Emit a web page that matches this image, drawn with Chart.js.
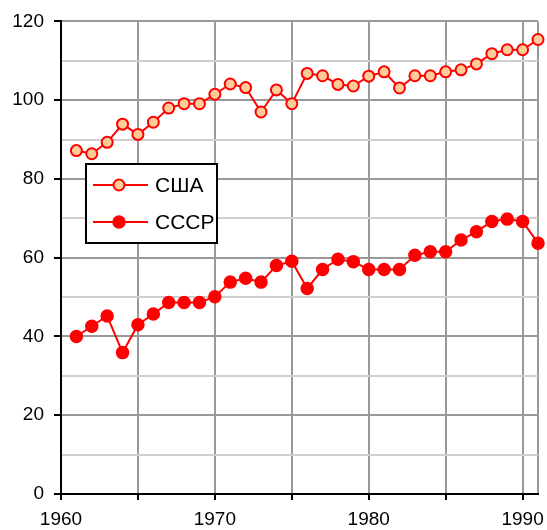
<!DOCTYPE html>
<html>
<head>
<meta charset="utf-8">
<script src="https://cdn.jsdelivr.net/npm/chart.js@4/dist/chart.umd.min.js"></script>
<style>
  html, body { margin: 0; padding: 0; background: #fff; }
  #wrap { width: 547px; height: 530px; }
</style>
</head>
<body>
<div id="wrap"><canvas id="chart" width="547" height="530"></canvas></div>
<script>
// values
const years = [1961, 1962, 1963, 1964, 1965, 1966, 1967, 1968, 1969, 1970,
  1971, 1972, 1973, 1974, 1975, 1976, 1977, 1978, 1979, 1980,
  1981, 1982, 1983, 1984, 1985, 1986, 1987, 1988, 1989, 1990, 1991];
const usa = [87.2, 86.4, 89.3, 93.9, 91.3, 94.4, 98.0, 99.1, 99.1, 101.5,
  104.1, 103.2, 97.0, 102.6, 99.1, 106.8, 106.2, 104.0, 103.6, 106.1,
  107.2, 103.1, 106.2, 106.2, 107.2, 107.7, 109.2, 111.8, 112.8, 112.8, 115.4];
const ussr = [40.0, 42.6, 45.2, 35.9, 43.0, 45.7, 48.6, 48.6, 48.6, 50.1,
  53.8, 54.8, 53.8, 58.0, 59.1, 52.2, 57.0, 59.6, 59.0, 57.0,
  57.0, 57.0, 60.6, 61.5, 61.5, 64.5, 66.6, 69.2, 69.8, 69.2, 63.7];
const seriesNames = ['США', 'СССР'];
const xTicks = [1960, 1965, 1970, 1975, 1980, 1985, 1990, 1991];

const FONT = '"Liberation Sans", Arial, sans-serif';

// legend drawn inside the plot, like the original
const boxLegend = {
  id: 'boxLegend',
  afterDraw(chart, args, opts) {
    const ctx = chart.ctx;
    ctx.save();
    ctx.fillStyle = '#fff';
    ctx.fillRect(opts.left, opts.top, opts.width, opts.height);
    ctx.strokeStyle = '#000';
    ctx.lineWidth = 2;
    ctx.strokeRect(opts.left, opts.top, opts.width, opts.height);
    chart.data.datasets.forEach((ds, i) => {
      const y = opts.top + opts.rowStart + i * opts.rowGap;
      const x0 = opts.left + 7;
      ctx.strokeStyle = ds.borderColor;
      ctx.lineWidth = ds.borderWidth;
      ctx.beginPath();
      ctx.moveTo(x0, y);
      ctx.lineTo(x0 + 55, y);
      ctx.stroke();
      ctx.beginPath();
      ctx.arc(x0 + 26, y, ds.pointRadius, 0, Math.PI * 2);
      ctx.fillStyle = ds.pointBackgroundColor;
      ctx.fill();
      ctx.lineWidth = ds.pointBorderWidth;
      ctx.strokeStyle = ds.pointBorderColor;
      ctx.stroke();
      ctx.fillStyle = '#000';
      ctx.font = '21px ' + FONT;
      ctx.textBaseline = 'middle';
      ctx.fillText(ds.label, x0 + 62, y + 1);
    });
    ctx.restore();
  }
};

const ctx = document.getElementById('chart').getContext('2d');
new Chart(ctx, {
  type: 'line',
  data: {
    datasets: [
      {
        label: seriesNames[0],
        data: years.map((yr, i) => ({ x: yr, y: usa[i] })),
        borderColor: '#ff0000',
        borderWidth: 2,
        pointRadius: 5.5,
        pointBorderWidth: 2,
        pointBackgroundColor: '#ffcc99',
        pointBorderColor: '#ff0000',
        tension: 0,
        clip: false
      },
      {
        label: seriesNames[1],
        data: years.map((yr, i) => ({ x: yr, y: ussr[i] })),
        borderColor: '#ff0000',
        borderWidth: 2,
        pointRadius: 6,
        pointBorderWidth: 1.5,
        pointBackgroundColor: '#ff0000',
        pointBorderColor: '#ff0000',
        tension: 0,
        clip: false
      }
    ]
  },
  options: {
    responsive: false,
    animation: false,
    layout: { padding: { top: 20, right: 9, left: 0, bottom: 0 } },
    plugins: {
      legend: { display: false },
      tooltip: { enabled: false },
      boxLegend: { left: 86, top: 164, width: 131, height: 79, rowStart: 21, rowGap: 37 }
    },
    scales: {
      x: {
        type: 'linear',
        min: 1960,
        max: 1991,
        afterBuildTicks: (scale) => { scale.ticks = xTicks.map(v => ({ value: v })); },
        afterFit: (scale) => { scale.height = 36; },
        ticks: {
          autoSkip: false,
          maxRotation: 0,
          padding: 8,
          color: '#000',
          font: { family: FONT, size: 19 },
          callback: (v) => (v % 10 === 0 ? String(v) : '')
        },
        grid: {
          color: '#999',
          lineWidth: 2,
          tickLength: 6,
          tickColor: (c) => (c.tick && c.tick.value === 1991 ? 'rgba(0,0,0,0)' : '#000'),
          tickWidth: 2
        },
        border: { color: '#000', width: 2 }
      },
      y: {
        min: 0,
        max: 120,
        afterFit: (scale) => { scale.width = 61; },
        ticks: {
          stepSize: 10,
          padding: 10,
          color: '#000',
          font: { family: FONT, size: 19 },
          callback: (v) => (v % 20 === 0 ? String(v) : '')
        },
        grid: {
          color: (c) => (c.tick && c.tick.value % 20 === 0 ? '#999' : '#cfcfcf'),
          lineWidth: 2,
          tickLength: 7,
          tickColor: (c) => (c.tick && c.tick.value % 20 === 0 ? '#000' : 'rgba(0,0,0,0)'),
          tickWidth: 2
        },
        border: { color: '#000', width: 2 }
      }
    }
  },
  plugins: [boxLegend]
});
</script>
</body>
</html>
